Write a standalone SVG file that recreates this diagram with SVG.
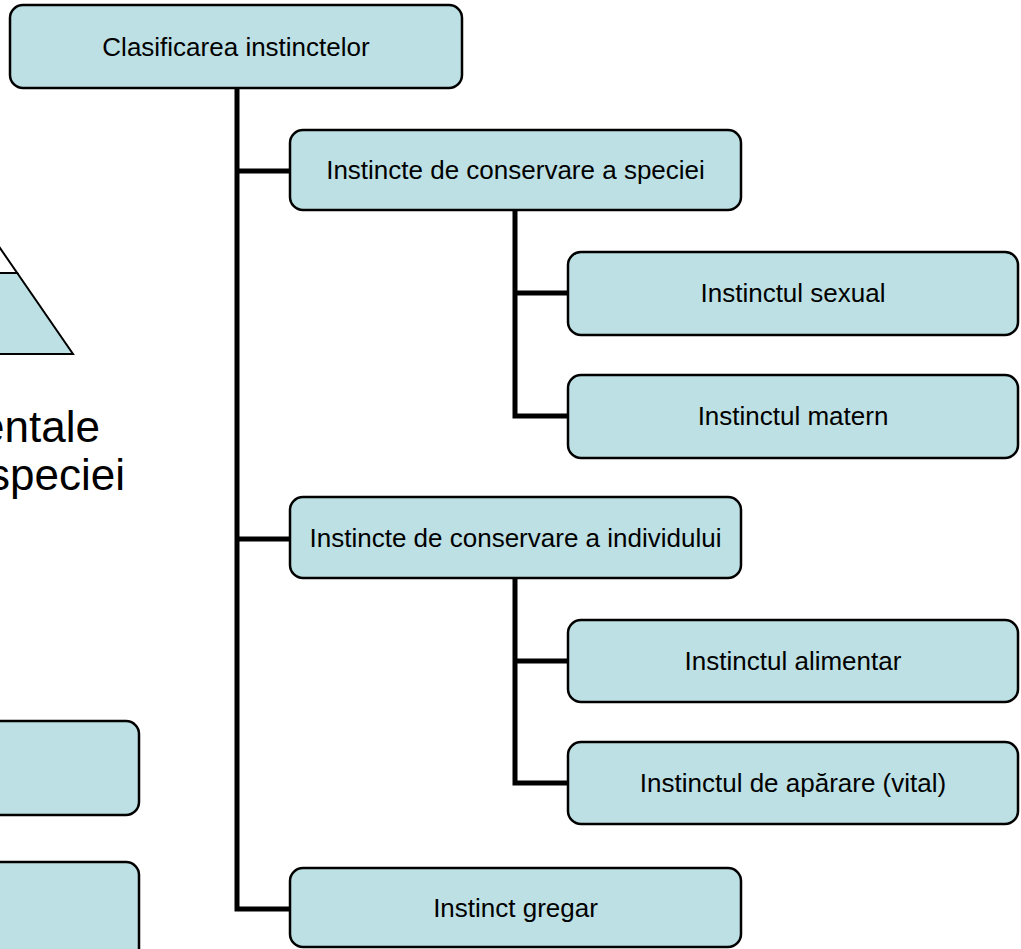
<svg xmlns="http://www.w3.org/2000/svg" width="1021" height="949" viewBox="0 0 1021 949">
<style>
.box{fill:#bce0e3;stroke:#000;stroke-width:2.5}
.lbl{font-family:"Liberation Sans",Arial,sans-serif;font-size:26px;fill:#000;text-anchor:middle}
.big{font-family:"Liberation Sans",Arial,sans-serif;font-size:44px;fill:#000;text-anchor:end}
.conn{fill:none;stroke:#000;stroke-width:5;stroke-linejoin:miter;stroke-linecap:butt}
.shape{stroke:#000;stroke-width:2}
</style>
<rect width="1021" height="949" fill="#fff"/>
<g id="left-shapes">
  <polygon class="shape" fill="#fff" points="-60.6,160 17.2,273 -120,273"/>
  <polygon class="shape" fill="#bce0e3" points="-120,273 17.2,273 73,354 -120,354"/>
  <text class="big" x="100" y="442">entale</text>
  <text class="big" x="125" y="490">speciei</text>
  <rect class="box" x="-100" y="721" width="239" height="94" rx="13"/>
  <rect class="box" x="-100" y="862" width="239" height="120" rx="13"/>
</g>
<g id="connectors">
  <path class="conn" d="M237 88 V909 H290"/>
  <path class="conn" d="M237 171 H290"/>
  <path class="conn" d="M237 539 H290"/>
  <path class="conn" d="M515 210 V416 H568"/>
  <path class="conn" d="M515 293 H568"/>
  <path class="conn" d="M515 578 V783 H568"/>
  <path class="conn" d="M515 661 H568"/>
</g>
<g id="root">
  <rect class="box" x="10" y="5" width="452" height="83" rx="13"/>
  <text class="lbl" x="236" y="56">Clasificarea instinctelor</text>
</g>
<g id="speciei">
  <rect class="box" x="290" y="130" width="451" height="80" rx="13"/>
  <text class="lbl" x="515.5" y="179">Instincte de conservare a speciei</text>
</g>
<g id="sexual">
  <rect class="box" x="568" y="252" width="450" height="83" rx="13"/>
  <text class="lbl" x="793" y="302">Instinctul sexual</text>
</g>
<g id="matern">
  <rect class="box" x="568" y="375" width="450" height="83" rx="13"/>
  <text class="lbl" x="793" y="425">Instinctul matern</text>
</g>
<g id="individului">
  <rect class="box" x="290" y="497" width="451" height="81" rx="13"/>
  <text class="lbl" x="515.5" y="547">Instincte de conservare a individului</text>
</g>
<g id="alimentar">
  <rect class="box" x="568" y="620" width="450" height="82" rx="13"/>
  <text class="lbl" x="793" y="670">Instinctul alimentar</text>
</g>
<g id="aparare">
  <rect class="box" x="568" y="742" width="450" height="82" rx="13"/>
  <text class="lbl" x="793" y="792">Instinctul de apărare (vital)</text>
</g>
<g id="gregar">
  <rect class="box" x="290" y="868" width="451" height="79" rx="13"/>
  <text class="lbl" x="515.5" y="917">Instinct gregar</text>
</g>
</svg>
